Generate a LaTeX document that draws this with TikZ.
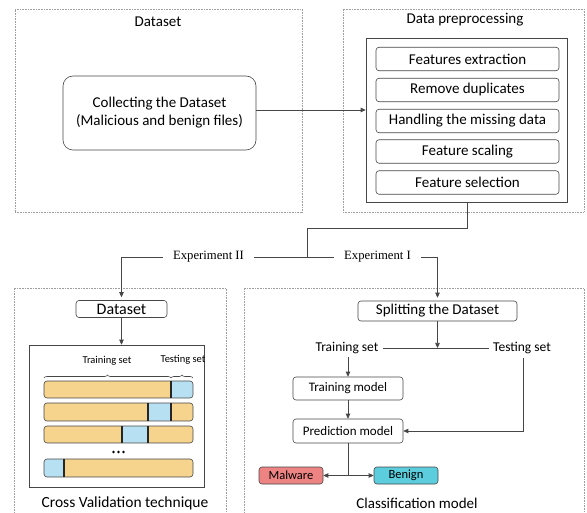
\documentclass[tikz,border=0pt]{standalone}
\usepackage{fontspec}
\setmainfont{Carlito}
\newfontfamily\serifx{Liberation Serif}
\usetikzlibrary{arrows.meta,decorations.pathreplacing}
\definecolor{barorange}{RGB}{246,212,142}
\definecolor{barblue}{RGB}{183,225,243}
\definecolor{malred}{RGB}{238,131,131}
\definecolor{bencyan}{RGB}{91,205,220}
\definecolor{lineclr}{RGB}{70,70,70}
\begin{document}
\begin{tikzpicture}[x=1pt,y=-1pt,
  frame/.style={draw=gray!75, dash pattern=on 0.8pt off 0.8pt, line width=0.5pt, inner sep=0pt},
  plainbox/.style={draw=lineclr, line width=0.6pt, inner sep=0pt},
  rbox/.style={draw=lineclr, rounded corners=3pt, line width=0.6pt, inner sep=0pt, align=center},
  fs15/.style={font=\fontsize{15}{18}\selectfont},
  fs13/.style={font=\fontsize{13}{15}\selectfont},
  conn/.style={draw=lineclr, line width=0.7pt},
  arr/.style={conn, -{Triangle[length=5pt,width=4.5pt]}},
  lbl/.style={inner sep=0pt},
  bar/.style={draw=lineclr, line width=0.6pt, rounded corners=3pt},
  divider/.style={draw=black!85, line width=1.2pt},
  brc/.style={draw=lineclr, line width=0.6pt, decorate, decoration={brace, amplitude=3pt}}
]
\useasboundingbox (0,0) rectangle (587,513);

% ---------- top frames ----------
\node[frame, minimum width=287pt, minimum height=203pt] (fdata) at (158.5,110.5) {};
\node[frame, minimum width=241pt, minimum height=203pt] (fprep) at (463.5,110.5) {};
\node[lbl, fs15] (tdata) at (158,22) {Dataset};
\node[lbl, fs15] (tprep) at (465,20) {Data preprocessing};

\node[rbox, fs15, rounded corners=10pt, minimum width=193pt, minimum height=74pt] (collect) at (159.5,113)
  {Collecting the Dataset\\(Malicious and benign files)};

\node[plainbox, minimum width=201pt, minimum height=164pt] (inner) at (466.5,120) {};
\node[rbox, fs15, minimum width=183pt, minimum height=23.5pt] (p1) at (467.5,59) {Features extraction};
\node[rbox, fs15, minimum width=183pt, minimum height=23.5pt] (p2) at (467.5,90) {Remove duplicates};
\node[rbox, fs15, minimum width=183pt, minimum height=23.5pt] (p3) at (467.5,121) {Handling the missing data};
\node[rbox, fs15, minimum width=183pt, minimum height=23.5pt] (p4) at (467.5,151.5) {Feature scaling};
\node[rbox, fs15, minimum width=183pt, minimum height=23.5pt] (p5) at (467.5,182.5) {Feature selection};

\draw[arr] ([yshift=3pt]collect.east) -- ([yshift=3pt]collect.east -| inner.west);

% ---------- bottom frames ----------
\node[frame, minimum width=212pt, minimum height=250pt, anchor=north west] (fcv) at (14,288) {};
\node[frame, minimum width=340pt, minimum height=250pt, anchor=north west] (fcl) at (244,288) {};

% ---------- experiment split ----------
\coordinate (b1) at (467,228);
\coordinate (b2) at (307,228);
\coordinate (b3) at (307,257);
\coordinate (eL) at (121.5,257);
\coordinate (eR) at (437.5,257);
\draw[conn] (inner.south -| b1) -- (b1) -- (b2) -- (b3);
\draw[conn] (eL) -- (eR);
\node[fill=white, inner xsep=10pt, inner ysep=2pt, font=\serifx\fontsize{12.7}{15}\selectfont] (exp2) at (208.5,257) {Experiment II};
\node[fill=white, inner xsep=10pt, inner ysep=2pt, font=\serifx\fontsize{12.7}{15}\selectfont] (exp1) at (377.5,257) {Experiment I};

% ---------- cross validation ----------
\node[rbox, font=\fontsize{16}{18}\selectfont, minimum width=91pt, minimum height=17pt] (ds2) at (121.5,309) {Dataset};
\draw[arr, shorten >=3pt] (eL) -- (ds2.north);

\node[plainbox, minimum width=175pt, minimum height=142pt] (cvbox) at (116.5,416) {};
\draw[arr] (ds2.south) -- (cvbox.north -| ds2.south);

% bars
\begin{scope}
  \clip[rounded corners=3pt] (44,381) rectangle (193,398);
  \fill[barorange] (44,381) rectangle (193,398);
  \fill[barblue] (171,381) rectangle (193,398);
\end{scope}
\draw[bar] (44,381) rectangle (193,398);
\draw[divider] (171,381) -- (171,398);

\begin{scope}
  \clip[rounded corners=3pt] (44,403) rectangle (193,421);
  \fill[barorange] (44,403) rectangle (193,421);
  \fill[barblue] (148,403) rectangle (171,421);
\end{scope}
\draw[bar] (44,403) rectangle (193,421);
\draw[divider] (148,403) -- (148,421);
\draw[divider] (171,403) -- (171,421);

\begin{scope}
  \clip[rounded corners=3pt] (44,426) rectangle (193,443);
  \fill[barorange] (44,426) rectangle (193,443);
  \fill[barblue] (122,426) rectangle (148,443);
\end{scope}
\draw[bar] (44,426) rectangle (193,443);
\draw[divider] (122,426) -- (122,443);
\draw[divider] (148,426) -- (148,443);

\begin{scope}
  \clip[rounded corners=3pt] (44,459) rectangle (193,477);
  \fill[barorange] (44,459) rectangle (193,477);
  \fill[barblue] (44,459) rectangle (64,477);
\end{scope}
\draw[bar] (44,459) rectangle (193,477);
\draw[divider] (64,459) -- (64,477);

\fill[black] (113.5,452) circle (1.3pt) (118.5,452) circle (1.3pt) (123.5,452) circle (1.3pt);

\draw[brc] (44,378) -- (171,378);
\draw[brc] (171,378) -- (193,378);
\node[lbl, font=\fontsize{10.5}{12}\selectfont] (trs) at (107,361) {Training set};
\node[lbl, font=\fontsize{10.5}{12}\selectfont] (tes) at (183,360) {Testing set};

\node[lbl, font=\fontsize{15.5}{18}\selectfont] (cvt) at (125,503.5) {Cross Validation technique};

% ---------- classification ----------
\node[rbox, fs15, minimum width=159pt, minimum height=20pt] (split) at (437.5,311) {Splitting the Dataset};
\draw[arr, shorten >=3pt] (eR) -- (split.north);

\node[lbl, font=\fontsize{13.5}{16}\selectfont] (trl) at (347,348) {Training set};
\node[lbl, font=\fontsize{13.5}{16}\selectfont] (tel) at (522,348) {Testing set};
\coordinate (sj) at (437.5,348);
\draw[conn] ([xshift=4pt]trl.east) -- ([xshift=-4pt]tel.west);
\draw[arr] (split.south) -- (sj);

\node[rbox, fs13, minimum width=110pt, minimum height=23pt] (tm) at (348,388.5) {Training model};
\node[rbox, fs13, minimum width=110pt, minimum height=24pt] (pm) at (348,431) {Prediction model};
\draw[arr] ([yshift=-3pt]trl.south -| tm.north) -- (tm.north);
\draw[arr] (tm.south) -- (pm.north);
\coordinate (tc) at (523,431);
\draw[arr] ([yshift=-4pt]tel.south -| tc) -- (tc) -- (pm.east);

\node[rbox, draw=lineclr, fill=malred, font=\fontsize{12.5}{15}\selectfont, minimum width=64pt, minimum height=17pt] (mal) at (291,475.5) {Malware};
\node[rbox, draw=lineclr, fill=bencyan, font=\fontsize{12.5}{15}\selectfont, minimum width=64pt, minimum height=17pt] (ben) at (406,475.5) {Benign};
\coordinate (pj) at (348,475.5);
\draw[conn] (pm.south) -- (pj);
\draw[arr] (pj) -- (mal.east);
\draw[arr] (pj) -- (ben.west);

\node[lbl, fs15] (clt) at (417,503.5) {Classification model};
\end{tikzpicture}
\end{document}
